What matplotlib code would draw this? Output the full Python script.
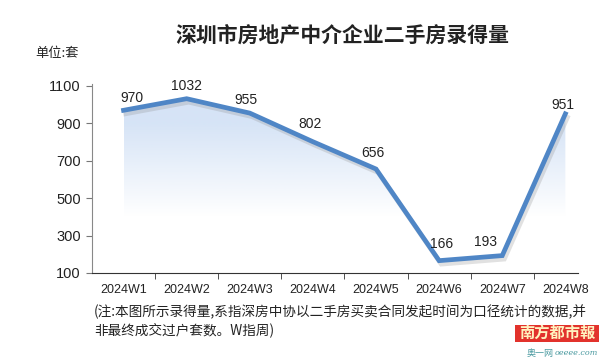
import numpy as np
import matplotlib
matplotlib.use('Agg')
import matplotlib.pyplot as plt
import matplotlib.patheffects as pe
from matplotlib.patches import Polygon, Rectangle

plt.rcParams['font.family'] = ['Noto Sans CJK SC', 'DejaVu Sans']

# data
weeks = ['2024W1', '2024W2', '2024W3', '2024W4', '2024W5', '2024W6', '2024W7', '2024W8']
values = [970, 1032, 955, 802, 656, 166, 193, 951]
y_ticks = [100, 300, 500, 700, 900, 1100]

title = '深圳市房地产中介企业二手房录得量'
unit = '单位:套'
note_1 = '(注:本图所示录得量,系指深房中协以二手房买卖合同发起时间为口径统计的数据,并'
note_2 = '非最终成交过户套数。W指周)'

line_color = '#4f86c6'
num_font = 'Liberation Sans'

fig = plt.figure(figsize=(6, 3.61), dpi=100)
fig.patch.set_facecolor('white')
ax = fig.add_axes([0.1533, 0.2438, 0.81, 0.518])

x = np.arange(len(weeks))

# gradient fill under the line
grad = np.linspace(0, 1, 256)
rgba = np.zeros((256, 1, 4))
rgba[..., 0] = 0.80
rgba[..., 1] = 0.87
rgba[..., 2] = 0.96
rgba[:, 0, 3] = np.clip((grad - 0.3) / 0.5, 0, 1) * 0.8
img = ax.imshow(rgba, extent=[x[0], x[-1], 100, 1100], origin='lower',
                aspect='auto', zorder=1)
poly = Polygon(np.column_stack([np.r_[x, x[-1], x[0]],
                                np.r_[values, 100, 100]]),
               closed=True, transform=ax.transData, facecolor='none', edgecolor='none')
ax.add_patch(poly)
img.set_clip_path(poly)

ax.plot(x, values, color=line_color, lw=3.4, solid_joinstyle='miter', zorder=3,
        clip_on=False,
        path_effects=[pe.SimpleLineShadow(offset=(1.5, -2.5), shadow_color='#888888', alpha=0.25),
                      pe.Normal()])

# value labels (offsets in points)
offsets = [(6, 9), (0, 9.5), (-3, 9.5), (-2, 13), (-2, 11.5), (2, 12), (-12, 10), (-2, 6.5)]
for xi, v, off in zip(x, values, offsets):
    ax.annotate(str(v), (xi, v), xytext=off, textcoords='offset points',
                ha='center', va='center', fontsize=10, family=num_font, color='#222222')

ax.set_xlim(-0.5, 7.2)
ax.set_ylim(100, 1100)
ax.set_yticks(y_ticks)
ax.set_yticklabels([str(t) for t in y_ticks], family=num_font, fontsize=10.5, color='#222222')
ax.set_xticks(x)
ax.set_xticklabels(weeks, family=num_font, fontsize=9, color='#222222')
ax.set_xticks(np.arange(0.5, 7, 1), minor=True)
ax.tick_params(axis='x', which='major', length=0, pad=8)
ax.tick_params(axis='x', which='minor', length=4, direction='out', color='#333333')
ax.tick_params(axis='y', length=4, direction='out', color='#777777', pad=4)

for s in ['top', 'right']:
    ax.spines[s].set_visible(False)
ax.spines['left'].set_color('#888888')
ax.spines['bottom'].set_color('#333333')
ax.spines['left'].set_bounds(100, 1110)
ax.set_facecolor('none')

fig.text(0.57, 0.903, title, ha='center', va='center', fontsize=15, fontweight='bold',
         color='#222222')
fig.text(0.058, 0.853, unit, ha='left', va='center', fontsize=9.5, color='#222222')
fig.text(0.157, 0.136, note_1, ha='left', va='center', fontsize=9.8, color='#222222')
fig.text(0.157, 0.086, note_2, ha='left', va='center', fontsize=9.8, color='#222222')

# newspaper logo
fig.patches.append(Rectangle((0.858, 0.053), 0.14, 0.047, transform=fig.transFigure,
                             facecolor='#e2322c', edgecolor='none'))
fig.text(0.928, 0.077, '南方都市報', ha='center', va='center', fontsize=11,
         color='#fff3c0', fontweight='bold')
fig.text(0.922, 0.022, '奥一网', ha='right', va='center', fontsize=6.5,
         color='#4a9aa0')
fig.text(0.924, 0.022, 'oeeee.com', ha='left', va='center', fontsize=5.8,
         color='#4a9aa0', style='italic', family='DejaVu Serif')

fig.savefig('out.png', dpi=100)
